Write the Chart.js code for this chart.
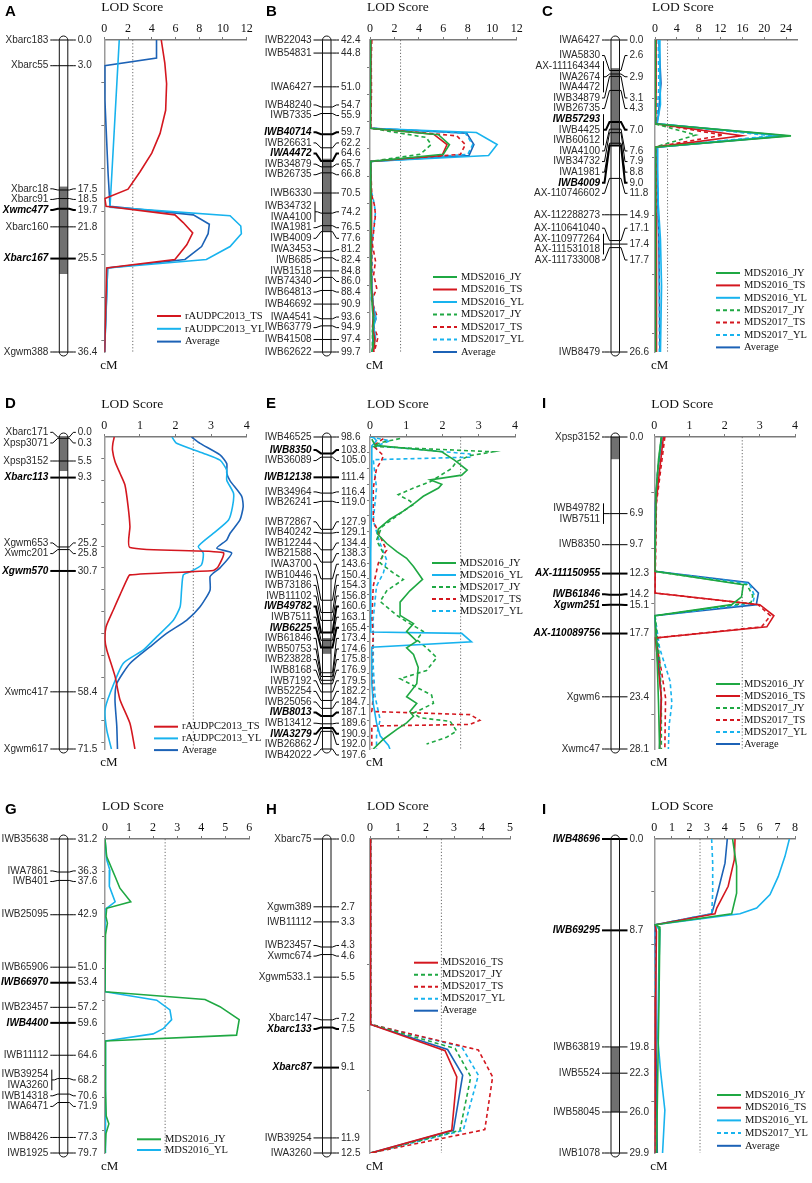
<!DOCTYPE html>
<html>
<head>
<meta charset="utf-8">
<title>QTL LOD profiles</title>
<script src="https://cdn.jsdelivr.net/npm/chart.js@4.4.1/dist/chart.umd.min.js"></script>
<style>
  html, body { margin: 0; padding: 0; background: #fff; }
  body { position: relative; width: 812px; height: 1183px; overflow: hidden; }
  canvas { position: absolute; }
</style>
</head>
<body>
<script>
// ---- data: markers (name, cM), QTL intervals and LOD curves as [cM, LOD] ----

const lod12 = [0, 2, 4, 6, 8, 10, 12];
const lod24 = [0, 4, 8, 12, 16, 20, 24];
const lod4 = [0, 1, 2, 3, 4];
const lod5 = [0, 1, 2, 3, 4, 5];
const lod6 = [0, 1, 2, 3, 4, 5, 6];
const lod8 = [0, 1, 2, 3, 4, 5, 6, 7, 8];

// A
const aMarkers = ['Xbarc183', 'Xbarc55', 'Xbarc18', 'Xbarc91', 'Xwmc477', 'Xbarc160', 'Xbarc167', 'Xgwm388'];
const aPos = [0.0, 3.0, 17.5, 18.5, 19.7, 21.8, 25.5, 36.4];
const aBold = ['Xwmc477', 'Xbarc167'];
const aQtl = [17.1, 27.3];
const aTS = [[0, 4.8], [2.7, 5.1], [5.1, 5.25], [8.2, 5.17], [10.9, 4.7], [13.2, 4.0], [15.4, 3.0], [17.4, 2.0], [18.5, 0.05], [19.4, 0.15], [20.4, 5.95], [21.3, 6.65], [22.5, 7.45], [23.9, 6.95], [25.6, 5.95], [26.6, 0.2], [30.4, 0.14], [36.4, 0.03]];
const aYL = [[0, 1.26], [19.5, 0.48], [20.5, 10.6], [21.7, 11.5], [22.6, 11.55], [24.1, 10.6], [25.6, 8.6], [26.6, 0.28], [32.3, 0.14], [36.4, 0.02]];
const aAvg = [[0, 4.4], [2.1, 4.4], [3.0, 0.02], [7.0, 0.05], [15.6, 0.32], [19.4, 0.48], [20.4, 7.5], [21.5, 8.85], [22.6, 8.75], [24.1, 8.2], [25.6, 6.8], [26.6, 0.28], [36.4, 0.02]];

// B
const bMarkers = ['IWB22043', 'IWB54831', 'IWA6427', 'IWB48240', 'IWB7335', 'IWB40714', 'IWB26631', 'IWA4472', 'IWB34879', 'IWB26735', 'IWB6330', 'IWB34732', 'IWA4100', 'IWA1981', 'IWB4009', 'IWA3453', 'IWB685', 'IWB1518', 'IWB74340', 'IWB64813', 'IWB46692', 'IWA4541', 'IWB63779', 'IWB41508', 'IWB62622'];
const bPos = [42.4, 44.8, 51.0, 54.7, 55.9, 59.7, 62.2, 64.6, 65.7, 66.8, 70.5, 74.2, 74.2, 76.5, 77.6, 81.2, 82.4, 84.8, 86.0, 88.4, 90.9, 93.6, 94.9, 97.4, 99.7];
const bBold = ['IWB40714', 'IWA4472'];
const bQtl = [64.2, 77.5];
const bJY16 = [[42.4, 0.05], [50, 0.04], [58.6, 0.03], [59.8, 5.6], [61.6, 6.5], [63.4, 6.0], [64.7, 0.05], [70, 0.05], [80, 0.08], [88, 0.1], [92, 0.2], [94, 0.3], [96, 0.2], [98, 0.3], [99.7, 0.15]];
const bTS16 = [[42.4, 0.08], [50, 0.06], [58.6, 0.05], [59.7, 5.2], [61.6, 6.3], [63.6, 5.9], [64.7, 0.05], [72, 0.1], [80, 0.1], [88, 0.15], [93, 0.3], [95, 0.2], [97.4, 0.4], [99.7, 0.3]];
const bYL16 = [[42.4, 0.05], [58.6, 0.02], [59.4, 8.7], [61.6, 10.4], [63.6, 9.7], [64.7, 0.02], [75, 0.05], [85, 0.1], [91, 0.25], [93.5, 0.5], [95, 0.3], [97, 0.45], [99.7, 0.2]];
const bJY17 = [[42.4, 0.05], [58.6, 0.03], [60.3, 4.6], [61.6, 5.0], [63.4, 4.1], [64.7, 0.03], [75, 0.1], [85, 0.1], [93, 0.3], [96, 0.2], [99.7, 0.2]];
const bTS17 = [[42.4, 0.15], [46, 0.1], [52, 0.12], [58.6, 0.05], [60.0, 7.1], [61.6, 7.8], [63.4, 7.4], [64.7, 0.05], [68, 0.1], [71, 0.15], [72.6, 0.35], [74.5, 0.45], [77.4, 0.3], [80, 0.2], [83, 0.45], [85.5, 0.3], [88, 0.55], [90.3, 0.15], [93, 0.55], [95, 0.3], [97, 0.65], [99.7, 0.35]];
const bYL17 = [[42.4, 0.1], [58.6, 0.05], [59.5, 7.8], [61.6, 8.4], [63.4, 8.0], [64.7, 0.05], [70, 0.1], [72, 0.3], [74, 0.45], [77, 0.3], [80, 0.15], [85, 0.2], [90, 0.1], [93, 0.4], [96, 0.3], [99.7, 0.25]];
const bAvg = [[42.4, 0.05], [58.6, 0.02], [59.5, 7.9], [61.6, 8.5], [63.6, 8.1], [64.7, 0.02], [75, 0.05], [85, 0.08], [93, 0.3], [96, 0.25], [99.7, 0.2]];

// C
const cMarkers = ['IWA6427', 'IWA5830', 'AX-111164344', 'IWA2674', 'IWA4472', 'IWB34879', 'IWB26735', 'IWB57293', 'IWB4425', 'IWB60612', 'IWA4100', 'IWB34732', 'IWA1981', 'IWB4009', 'AX-110746602', 'AX-112288273', 'AX-110641040', 'AX-110977264', 'AX-111531018', 'AX-111733008', 'IWB8479'];
const cPos = [0.0, 2.6, 2.9, 2.9, 2.9, 3.1, 4.3, 7.0, 7.0, 7.0, 7.6, 7.9, 8.8, 9.0, 11.8, 14.9, 17.1, 17.4, 17.4, 17.7, 26.6];
const cBold = ['IWB57293', 'IWB4009'];
const cQtl = [2.4, 8.9];
const cJY16 = [[0, 0.1], [5, 0.1], [7.15, 0.05], [8.17, 24.9], [9.13, 0.05], [15, 0.1], [26.6, 0.1]];
const cTS16 = [[0, 0.2], [4, 0.2], [7.15, 0.1], [8.17, 15.9], [9.13, 0.1], [15, 0.2], [20, 0.3], [26.6, 0.25]];
const cYL16 = [[0, 0.8], [3, 0.9], [5.5, 1.0], [7.15, 0.4], [8.17, 23.4], [9.13, 0.4], [11, 0.5], [14, 0.6], [17, 1.0], [21, 1.2], [26.6, 1.0]];
const cJY17 = [[0, 0.05], [7.15, 0.02], [8.1, 7.5], [9.13, 0.02], [26.6, 0.05]];
const cTS17 = [[0, 0.15], [5, 0.15], [7.15, 0.1], [8.1, 12.5], [9.13, 0.1], [15, 0.2], [26.6, 0.2]];
const cYL17 = [[0, 0.6], [4, 0.7], [7.15, 0.3], [8.17, 21.5], [9.13, 0.3], [13, 0.5], [18, 0.8], [26.6, 0.8]];
const cAvg = [[0, 0.7], [3.7, 1.1], [6.5, 0.6], [7.15, 0.3], [8.17, 24.0], [9.13, 0.3], [12, 0.4], [17, 0.7], [26.6, 0.9]];

// D
const dMarkers = ['Xbarc171', 'Xpsp3071', 'Xpsp3152', 'Xbarc113', 'Xgwm653', 'Xwmc201', 'Xgwm570', 'Xwmc417', 'Xgwm617'];
const dPos = [0.0, 0.3, 5.5, 9.3, 25.2, 25.8, 30.7, 58.4, 71.5];
const dBold = ['Xbarc113', 'Xgwm570'];
const dQtl = [0.3, 7.8];
const dTS = [[0, 0.28], [1.5, 0.24], [3.0, 0.23], [5.6, 0.3], [8.3, 0.44], [11, 0.58], [16, 0.67], [20.5, 0.72], [25.3, 0.72], [26.5, 3.34], [29.7, 3.2], [30.6, 3.06], [31.6, 0.72], [32.8, 0.63], [36, 0.45], [39.7, 0.25], [43.5, 0.05], [46.5, 0.02], [48.8, 0.07], [54.8, 0.3], [60.2, 0.44], [65.6, 0.72], [71.5, 0.86]];
const dYL = [[0, 1.9], [1.45, 2.03], [3.7, 2.78], [5.3, 3.25], [7.6, 3.44], [9.9, 3.44], [12.9, 3.63], [16, 3.6], [19, 3.49], [22.1, 3.06], [25.1, 2.64], [26.6, 2.78], [29.3, 2.73], [30.9, 2.41], [31.6, 2.22], [35.1, 2.17], [38.9, 2.13], [42, 1.94], [45.8, 1.47], [48.8, 1.1], [51.9, 0.53], [58.8, 0.16], [62.6, 0.02], [67.2, 0.07], [71.5, 0.2]];
const dAvg = [[0, 2.45], [1.45, 2.69], [4.1, 3.25], [6.1, 3.44], [8.3, 3.44], [10, 3.53], [13.6, 3.86], [16, 3.9], [19, 3.81], [22.1, 3.53], [23.6, 3.44], [25.5, 3.16], [26.6, 3.58], [30, 3.25], [31.2, 3.06], [32, 2.97], [35.1, 2.97], [38.9, 2.69], [42, 2.31], [45, 1.75], [48.1, 1.28], [51.9, 0.72], [56.5, 0.35], [60.2, 0.3], [66.2, 0.35], [71.5, 0.37]];

// E
const eMarkers = ['IWB46525', 'IWB8350', 'IWB36089', 'IWB12138', 'IWB34964', 'IWB26241', 'IWB72867', 'IWB40242', 'IWB12244', 'IWB21588', 'IWA3700', 'IWB10446', 'IWB73186', 'IWB11102', 'IWB49782', 'IWB7511', 'IWB6225', 'IWB61846', 'IWB50753', 'IWB23828', 'IWB8168', 'IWB7192', 'IWB52254', 'IWB25056', 'IWB8013', 'IWB13412', 'IWA3279', 'IWB26862', 'IWB42022'];
const ePos = [98.6, 103.8, 105.0, 111.4, 116.4, 119.0, 127.9, 129.1, 134.4, 138.3, 143.6, 150.4, 154.3, 156.8, 160.6, 163.1, 165.4, 173.4, 174.6, 175.8, 176.9, 179.5, 182.2, 184.7, 187.1, 189.6, 190.9, 192.0, 197.6];
const eBold = ['IWB8350', 'IWB12138', 'IWB49782', 'IWB6225', 'IWB8013', 'IWA3279'];
const eQtl = [162.4, 167.4];
const eJY16 = [[99.3, 0.05], [101.2, 0.14], [103.3, 1.98], [106.0, 2.34], [109.1, 2.68], [110.7, 2.53], [112.2, 1.66], [113.6, 1.98], [114.8, 1.89], [117.4, 1.47], [119.5, 1.24], [122.1, 0.92], [124.7, 0.55], [127.8, 0.23], [129.3, 0.2], [132.4, 0.46], [135, 0.74], [137.1, 1.01], [139.7, 1.2], [143.8, 1.45], [147.4, 1.1], [151, 0.83], [155.2, 0.83], [157.8, 1.2], [160.3, 1.01], [163.4, 1.29], [165.5, 1.01], [167.6, 1.2], [171.7, 1.33], [176.9, 1.29], [181, 1.01], [183.1, 1.29], [185.7, 1.1], [187.2, 1.2], [189.3, 1.01], [191.4, 0.74], [194.5, 0.37], [197.6, 0.09]];
const eYL16 = [[98.6, 0.09], [99.8, 0.18], [101.4, 0.05], [114.8, 0.05], [135.5, 0.02], [160.5, 0.02], [160.9, 2.53], [163.6, 2.8], [165.3, 0.05], [176.9, 0.05], [183.1, 0.09], [189.3, 0.18], [193.4, 0.28], [196.5, 0.51], [197.6, 0.55]];
const eJY17 = [[99.1, 0.83], [100.4, 0.28], [101.6, 0.09], [103.3, 3.4], [104.5, 2.76], [106.4, 2.39], [108.6, 2.25], [112.8, 1.66], [114.8, 1.2], [116.9, 0.78], [118.9, 1.1], [120, 1.2], [122.1, 0.92], [127.2, 0.32], [131.4, 0.18], [135.5, 0.37], [138.6, 0.28], [141.7, 0.64], [143.8, 0.92], [147.4, 0.46], [150.8, 0.28], [155.2, 0.74], [157.8, 1.1], [160.3, 1.47], [162.9, 1.29], [165.5, 1.56], [168.6, 1.84], [172.7, 1.56], [175.3, 0.83], [176.9, 1.1], [180.5, 1.7], [183.1, 1.75], [186.2, 1.2], [187.7, 1.38], [188.8, 2.21], [191.9, 2.39], [193.9, 2.11], [196, 1.56]];
const eTS17 = [[99.1, 0.37], [101.4, 0.09], [104.5, 0.37], [106, 0.32], [108.6, 0.18], [114.8, 0.09], [125.2, 0.09], [132.4, 0.37], [134.5, 0.46], [138.6, 0.23], [145.9, 0.09], [156.2, 0.05], [161.4, 0.09], [171.7, 0.05], [181, 0.09], [185.7, 0.05], [186.7, 2.76], [188.5, 3.03], [189.8, 2.76], [190.3, 0.05], [197.6, 0.05]];
const eYL17 = [[98.6, 0.0], [99.8, 0.55], [101.4, 0.18], [104, 2.76], [105, 2.8], [105.8, 0.09], [114.8, 0.18], [125.2, 0.09], [132.4, 0.28], [137.6, 0.46], [141.7, 0.37], [145.9, 0.18], [156.2, 0.09], [171.7, 0.09], [181, 0.14], [188.3, 0.28], [193.4, 0.18], [197.6, 0.18]];

// I (middle row)
const iMarkers = ['Xpsp3152', 'IWB49782', 'IWB7511', 'IWB8350', 'AX-111150955', 'IWB61846', 'Xgwm251', 'AX-110089756', 'Xgwm6', 'Xwmc47'];
const iPos = [0.0, 6.9, 6.9, 9.7, 12.3, 14.2, 15.1, 17.7, 23.4, 28.1];
const iBold = ['AX-111150955', 'IWB61846', 'Xgwm251', 'AX-110089756'];
const iQtl = [0, 2.0];
const iJY16 = [[0, 0.2], [2, 0.12], [5, 0.05], [9, 0.03], [12.1, 0.02], [13.3, 2.53], [14.4, 2.48], [15.1, 2.2], [16.1, 0.02], [20, 0.08], [24, 0.12], [28.1, 0.15]];
const iTS16 = [[0, 0.26], [3, 0.15], [6, 0.05], [10, 0.03], [14.05, 0.02], [15.1, 3.0], [16.1, 3.4], [17.1, 3.2], [18.1, 0.03], [21, 0.12], [23.5, 0.2], [28.1, 0.15]];
const iJY17 = [[0, 0.2], [3, 0.1], [6, 0.04], [12.1, 0.02], [13.3, 2.63], [14.3, 2.8], [14.9, 2.75], [16.1, 0.02], [20, 0.15], [23.5, 0.2], [28.1, 0.2]];
const iTS17 = [[0, 0.3], [3, 0.18], [6, 0.06], [14.05, 0.02], [15.1, 2.95], [16.1, 3.3], [17.1, 3.05], [18.1, 0.03], [21, 0.2], [23.5, 0.32], [28.1, 0.3]];
const iYL17 = [[0, 0.22], [3, 0.1], [6, 0.04], [12.1, 0.02], [13.2, 2.7], [14.3, 2.85], [15.0, 2.8], [16.1, 0.02], [19, 0.15], [22, 0.45], [24, 0.5], [26, 0.42], [28.1, 0.4]];
const iAvg = [[0, 0.22], [3, 0.1], [6, 0.03], [12.1, 0.01], [13.1, 2.67], [14.05, 2.96], [15.1, 2.9], [16.1, 0.01], [20, 0.12], [23.5, 0.2], [28.1, 0.15]];

// G
const gMarkers = ['IWB35638', 'IWA7861', 'IWB401', 'IWB25095', 'IWB65906', 'IWB66970', 'IWB23457', 'IWB4400', 'IWB11112', 'IWB39254', 'IWA3260', 'IWB14318', 'IWA6471', 'IWB8426', 'IWB1925'];
const gPos = [31.2, 36.3, 37.6, 42.9, 51.0, 53.4, 57.2, 59.6, 64.6, 68.2, 68.2, 70.6, 71.9, 77.3, 79.7];
const gBold = ['IWB66970', 'IWB4400'];
const gJY16 = [[31.2, 0], [33.9, 0.07], [37, 0.42], [38.8, 0.62], [40.9, 1.07], [41.9, 0.07], [43.2, 0.04], [44.2, 0.1], [46, 0.02], [54.8, 0.0], [56, 4.16], [57.1, 4.78], [59.1, 5.58], [61.5, 5.47], [62.4, 0.0], [70, 0.02], [74, 0.05], [75.2, 0.16], [76.7, 0.04], [79.7, 0]];
const gYL16 = [[31.2, 0], [34.4, 0.07], [36, 0.2], [38.5, 0.18], [40.9, 0.42], [42.1, 0], [54.8, 0], [56.1, 2.15], [57.6, 2.7], [59.1, 2.77], [60.5, 2.42], [61.3, 2.0], [62.4, 0], [66, 0.04], [79.7, 0]];

// H
const hMarkers = ['Xbarc75', 'Xgwm389', 'IWB11112', 'IWB23457', 'Xwmc674', 'Xgwm533.1', 'Xbarc147', 'Xbarc133', 'Xbarc87', 'IWB39254', 'IWA3260'];
const hPos = [0.0, 2.7, 3.3, 4.3, 4.6, 5.5, 7.2, 7.5, 9.1, 11.9, 12.5];
const hBold = ['Xbarc133', 'Xbarc87'];
const hTS16 = [[0, 0.02], [7.38, 0.02], [8.43, 2.68], [9.47, 3.1], [11.6, 2.92], [12.5, 0.02]];
const hJY17 = [[0, 0.02], [7.38, 0.02], [8.34, 3.04], [9.47, 3.6], [11.6, 3.21], [12.5, 0.02]];
const hTS17 = [[0, 0.02], [7.38, 0.02], [8.4, 3.87], [9.47, 4.38], [11.57, 4.1], [12.5, 0.02]];
const hYL17 = [[0, 0.02], [7.38, 0.02], [8.27, 3.27], [9.4, 3.87], [11.6, 3.33], [12.5, 0.02]];
const hAvg = [[0, 0.02], [7.38, 0.02], [8.38, 2.77], [9.4, 3.31], [11.6, 2.98], [12.5, 0.02]];

// I (bottom row)
const jMarkers = ['IWB48696', 'IWB69295', 'IWB63819', 'IWB5524', 'IWB58045', 'IWB1078'];
const jPos = [0.0, 8.7, 19.8, 22.3, 26.0, 29.9];
const jBold = ['IWB48696', 'IWB69295'];
const jQtl = [19.8, 26.0];
const jJY16 = [[0, 4.45], [2.6, 4.68], [5.15, 4.68], [7.12, 4.4], [8.17, 0.04], [8.4, 0.32], [15, 0.27], [22, 0.2], [29.9, 0.13]];
const jTS16 = [[0, 4.59], [1.97, 4.55], [4.5, 4.2], [6.58, 3.55], [7.12, 3.45], [8.17, 0.04], [8.8, 0.12], [15, 0.08], [29.9, 0.04]];
const jYL16 = [[0, 7.68], [1.65, 7.43], [3.56, 7.05], [5.3, 6.58], [6.58, 5.82], [7.12, 4.87], [8.17, 0.04], [8.65, 0.32], [13, 0.25], [19, 0.2], [22, 0.35], [25.8, 0.6], [29.9, 0.47]];
const jYL17 = [[0, 3.26], [2.3, 3.32], [5.15, 3.32], [7.12, 3.26], [8.17, 0.04], [10, 0.05], [29.9, 0.04]];
const jAvg = [[0, 4.15], [2.3, 4.02], [4.83, 3.64], [6.58, 3.36], [7.12, 3.26], [8.17, 0.04], [12, 0.08], [20, 0.1], [29.9, 0.17]];

// ---- styles and layout ----
const GREEN = '#1fa843', RED = '#d4171f', SKY = '#18b3ee', NAVY = '#1c62b6';
const DASH = [4, 3];
const styleOf = {
  'MDS2016_JY': [GREEN, []], 'MDS2016_TS': [RED, []], 'MDS2016_YL': [SKY, []],
  'MDS2017_JY': [GREEN, DASH], 'MDS2017_TS': [RED, DASH], 'MDS2017_YL': [SKY, DASH],
  'Average': [NAVY, []], 'rAUDPC2013_TS': [RED, []], 'rAUDPC2013_YL': [SKY, []]
};

const rows = [
  { T: 0, H: 392, top: 40, bot: 352, letterY: 4 },
  { T: 392, H: 398, top: 437, bot: 749, letterY: 396 },
  { T: 790, H: 393, top: 839, bot: 1153, letterY: 802 }
];
const cols = [
  { L: 0, W: 270, chrom: 59.3, letterX: 5 },
  { L: 255, W: 285, chrom: 322.5, letterX: 266 },
  { L: 525, W: 287, chrom: 611, letterX: 542 }
];

const panels = [
  { letter: 'A', row: 0, col: 0, x0: 104.3, x1: 246.7, xmax: 12, xticks: lod12, thr: 2.4,
    markers: aMarkers, pos: aPos, bold: aBold, qtl: aQtl, legend: [157, 316, 12.8],
    series: [['rAUDPC2013_TS', aTS], ['rAUDPC2013_YL', aYL], ['Average', aAvg]] },
  { letter: 'B', row: 0, col: 1, x0: 370, x1: 516.7, xmax: 12, xticks: lod12, thr: 2.5,
    markers: bMarkers, pos: bPos, bold: bBold, qtl: bQtl, legend: [433, 277, 12.5],
    series: [['MDS2016_JY', bJY16], ['MDS2016_TS', bTS16], ['MDS2016_YL', bYL16], ['MDS2017_JY', bJY17], ['MDS2017_TS', bTS17], ['MDS2017_YL', bYL17], ['Average', bAvg]] },
  { letter: 'C', row: 0, col: 2, x0: 655, x1: 797, xmax: 26, xticks: lod24, thr: 2.3,
    markers: cMarkers, pos: cPos, bold: cBold, qtl: cQtl, legend: [716, 273, 12.4],
    series: [['MDS2016_JY', cJY16], ['MDS2016_TS', cTS16], ['MDS2016_YL', cYL16], ['MDS2017_JY', cJY17], ['MDS2017_TS', cTS17], ['MDS2017_YL', cYL17], ['Average', cAvg]] },
  { letter: 'D', row: 1, col: 0, x0: 104.3, x1: 246.7, xmax: 4, xticks: lod4, thr: 2.5, smooth: 0.2,
    markers: dMarkers, pos: dPos, bold: dBold, qtl: dQtl, legend: [154, 726.7, 11.7],
    series: [['rAUDPC2013_TS', dTS], ['rAUDPC2013_YL', dYL], ['Average', dAvg]] },
  { letter: 'E', row: 1, col: 1, x0: 370, x1: 515, xmax: 4, xticks: lod4, thr: 2.5,
    markers: eMarkers, pos: ePos, bold: eBold, qtl: eQtl, legend: [432, 563, 12],
    series: [['MDS2016_JY', eJY16], ['MDS2016_YL', eYL16], ['MDS2017_JY', eJY17], ['MDS2017_TS', eTS17], ['MDS2017_YL', eYL17]] },
  { letter: 'I', row: 1, col: 2, x0: 654.3, x1: 795, xmax: 4, xticks: lod4, thr: 2.5,
    markers: iMarkers, pos: iPos, bold: iBold, qtl: iQtl, legend: [716, 684, 12],
    series: [['MDS2016_JY', iJY16], ['MDS2016_TS', iTS16], ['MDS2017_JY', iJY17], ['MDS2017_TS', iTS17], ['MDS2017_YL', iYL17], ['Average', iAvg]] },
  { letter: 'G', row: 2, col: 0, x0: 105, x1: 249.3, xmax: 6, xticks: lod6, thr: 2.5,
    markers: gMarkers, pos: gPos, bold: gBold, qtl: null, legend: [137, 1139.3, 10.7],
    series: [['MDS2016_JY', gJY16], ['MDS2016_YL', gYL16]] },
  { letter: 'H', row: 2, col: 1, x0: 370, x1: 510, xmax: 5, xticks: lod5, thr: 2.55,
    markers: hMarkers, pos: hPos, bold: hBold, qtl: null, legend: [414, 962.7, 12],
    series: [['MDS2016_TS', hTS16], ['MDS2017_JY', hJY17], ['MDS2017_TS', hTS17], ['MDS2017_YL', hYL17], ['Average', hAvg]] },
  { letter: 'I', row: 2, col: 2, x0: 654.3, x1: 795, xmax: 8, xticks: lod8, thr: 2.6,
    markers: jMarkers, pos: jPos, bold: jBold, qtl: jQtl, legend: [717, 1095, 12.7],
    series: [['MDS2016_JY', jJY16], ['MDS2016_TS', jTS16], ['MDS2016_YL', jYL16], ['MDS2017_YL', jYL17], ['Average', jAvg]] }
];

const SANS = '"Liberation Sans", Arial, sans-serif';
const SERIF = '"Liberation Serif", "Times New Roman", serif';
const ROW_GAP = 10.6;

// push overlapping label rows apart, working from the bottom marker upwards;
// a crowded run is centred between its first and last marker
function spread(want, gap, lo, hi) {
  const top = b => Math.max(lo, Math.min(hi - (b.n - 1) * gap, (b.first + b.last) / 2 - (b.n - 1) * gap / 2));
  const stack = [];
  for (let i = want.length - 1; i >= 0; i--) {
    stack.push({ n: 1, first: want[i], last: want[i] });
    while (stack.length > 1) {
      const up = stack[stack.length - 1], down = stack[stack.length - 2];
      if (top(up) + up.n * gap > top(down) + 0.01) {
        down.n += up.n;
        down.first = up.first;
        stack.pop();
      } else break;
    }
  }
  const out = [];
  stack.reverse().forEach(b => { const t = top(b); for (let k = 0; k < b.n; k++) out.push(t + k * gap); });
  return out;
}

function mapPlugin(p, col, row) {
  return {
    id: 'linkageMap',
    beforeDatasetsDraw(chart) {
      const ctx = chart.ctx, a = chart.chartArea;
      const x = chart.scales.x.getPixelForValue(p.thr);
      ctx.save();
      ctx.strokeStyle = '#6b6b6b';
      ctx.lineWidth = 1;
      ctx.setLineDash([1.2, 2]);
      ctx.beginPath();
      ctx.moveTo(x, a.top);
      ctx.lineTo(x, a.bottom);
      ctx.stroke();
      ctx.restore();
    },
    afterDraw(chart) {
      const ctx = chart.ctx, ys = chart.scales.y;
      const Y = v => ys.getPixelForValue(v) + row.T;
      ctx.save();
      ctx.translate(-col.L, -row.T);

      // panel letter, axis titles
      ctx.fillStyle = '#000';
      ctx.textBaseline = 'top';
      ctx.textAlign = 'left';
      ctx.font = 'bold 15px ' + SANS;
      ctx.fillText(p.letter, col.letterX, row.letterY);
      ctx.textBaseline = 'middle';
      ctx.font = '13.5px ' + SERIF;
      ctx.fillStyle = '#111';
      ctx.fillText('LOD Score', p.x0 - 3, row.top - 33);
      ctx.font = '13px ' + SERIF;
      ctx.fillText('cM', p.x0 - 4, row.bot + 14);

      // chromosome body
      const cx = col.chrom, w = 8.5, r = w / 2;
      const cTop = Y(p.pos[0]) - 4, cBot = Y(p.pos[p.pos.length - 1]) + 4;
      const capsule = () => {
        ctx.beginPath();
        ctx.moveTo(cx, cTop + r);
        ctx.arc(cx + r, cTop + r, r, Math.PI, 0);
        ctx.lineTo(cx + w, cBot - r);
        ctx.arc(cx + r, cBot - r, r, 0, Math.PI);
        ctx.closePath();
      };
      capsule();
      ctx.fillStyle = '#fff';
      ctx.fill();
      if (p.qtl) {
        ctx.save();
        capsule();
        ctx.clip();
        ctx.fillStyle = '#707070';
        ctx.fillRect(cx - 1, Y(p.qtl[0]), w + 2, Y(p.qtl[1]) - Y(p.qtl[0]));
        ctx.restore();
      }

      // markers: group names sharing one position
      const groups = [];
      p.markers.forEach((m, i) => {
        const g = groups[groups.length - 1];
        if (g && g.pos === p.pos[i]) g.names.push(m);
        else groups.push({ pos: p.pos[i], names: [m] });
      });
      const want = [];
      groups.forEach(g => g.names.forEach(() => want.push(Y(g.pos))));
      const rowsY = spread(want, ROW_GAP, row.top - 6, row.bot + 6);

      const nameR = cx - 11, valL = cx + w + 10;
      let k = 0;
      groups.forEach(g => {
        const ys2 = rowsY.slice(k, k + g.names.length);
        k += g.names.length;
        const mid = ys2.reduce((s, v) => s + v, 0) / ys2.length;
        const ty = Y(g.pos);
        const strong = g.names.some(n => p.bold.includes(n));
        ctx.strokeStyle = '#000';
        let sx = nameR + 2;
        if (g.names.length > 1) {
          sx = nameR + 3.5;
          ctx.beginPath();
          ctx.lineWidth = 1;
          ctx.moveTo(sx, ys2[0] - 5);
          ctx.lineTo(sx, ys2[ys2.length - 1] + 5);
          ctx.stroke();
        }
        ctx.lineWidth = strong ? 2 : 1;
        ctx.beginPath();
        ctx.moveTo(sx, mid);
        ctx.lineTo(sx + 2.5, mid);
        ctx.lineTo(cx - 1.5, ty);
        ctx.lineTo(cx + w + 1.5, ty);
        ctx.lineTo(valL - 4.5, mid);
        ctx.lineTo(valL - 2, mid);
        ctx.stroke();

        g.names.forEach((n, j) => {
          const b = p.bold.includes(n);
          ctx.font = (b ? 'italic bold 10px ' : '10px ') + SANS;
          ctx.fillStyle = b ? '#000' : '#2a2a2a';
          ctx.textAlign = 'right';
          ctx.fillText(n, nameR, ys2[j]);
        });
        ctx.font = '10px ' + SANS;
        ctx.fillStyle = '#2a2a2a';
        ctx.textAlign = 'left';
        ctx.fillText(g.pos.toFixed(1), valL, mid);
      });
      capsule();
      ctx.strokeStyle = '#111';
      ctx.lineWidth = 1;
      ctx.stroke();

      // legend
      const [lx, ly, lg] = p.legend;
      chart.data.datasets.forEach((ds, i) => {
        const y = ly + i * lg;
        ctx.strokeStyle = ds.borderColor;
        ctx.lineWidth = 2;
        ctx.setLineDash(ds.borderDash || []);
        ctx.beginPath();
        ctx.moveTo(lx, y);
        ctx.lineTo(lx + 24, y);
        ctx.stroke();
        ctx.setLineDash([]);
        ctx.font = '10.5px ' + SERIF;
        ctx.fillStyle = '#111';
        ctx.textAlign = 'left';
        ctx.fillText(ds.label, lx + 28, y);
      });
      ctx.restore();
    }
  };
}

function build(p) {
  const col = cols[p.col], row = rows[p.row];
  const cv = document.createElement('canvas');
  cv.width = col.W;
  cv.height = row.H;
  cv.style.left = col.L + 'px';
  cv.style.top = row.T + 'px';
  cv.style.width = col.W + 'px';
  cv.style.height = row.H + 'px';
  document.body.appendChild(cv);

  const yMin = p.pos[0], yMax = p.pos[p.pos.length - 1];
  const yTicks = [];
  for (let v = yMin + 5; v < yMax - 0.5; v += 5) yTicks.push({ value: v });

  new Chart(cv, {
    type: 'scatter',
    data: {
      datasets: p.series.map(([label, pts]) => {
        const [color, dash] = styleOf[label];
        return {
          label,
          data: pts.map(([cm, lod]) => ({ x: lod, y: cm })),
          showLine: true,
          borderColor: color,
          backgroundColor: color,
          borderWidth: 1.6,
          borderDash: dash,
          pointRadius: 0,
          tension: p.smooth || 0
        };
      })
    },
    options: {
      responsive: false,
      animation: false,
      devicePixelRatio: 1,
      events: [],
      layout: {
        padding: {
          left: p.x0 - col.L - 4,
          top: row.top - row.T - 22,
          right: col.W - (p.x1 - col.L),
          bottom: row.H - (row.bot - row.T)
        }
      },
      plugins: { legend: { display: false }, tooltip: { enabled: false } },
      scales: {
        x: {
          type: 'linear', position: 'top', min: 0, max: p.xmax,
          afterBuildTicks: ax => { ax.ticks = p.xticks.map(v => ({ value: v })); },
          afterFit: ax => { ax.height = 22; },
          ticks: { autoSkip: false, maxRotation: 0, padding: 1, color: '#111', font: { family: SERIF, size: 12 } },
          grid: { drawOnChartArea: false, tickLength: 3, color: '#7a7a7a' },
          border: { color: '#7a7a7a', width: 1.5 }
        },
        y: {
          type: 'linear', reverse: true, min: yMin, max: yMax,
          afterBuildTicks: ax => { ax.ticks = yTicks; },
          afterFit: ax => { ax.width = 4; },
          ticks: { display: false },
          grid: { drawOnChartArea: false, tickLength: 3, color: '#7a7a7a' },
          border: { color: '#9a9a9a', width: 1.5 }
        }
      }
    },
    plugins: [mapPlugin(p, col, row)]
  });
}

panels.forEach(build);
</script>
</body>
</html>
